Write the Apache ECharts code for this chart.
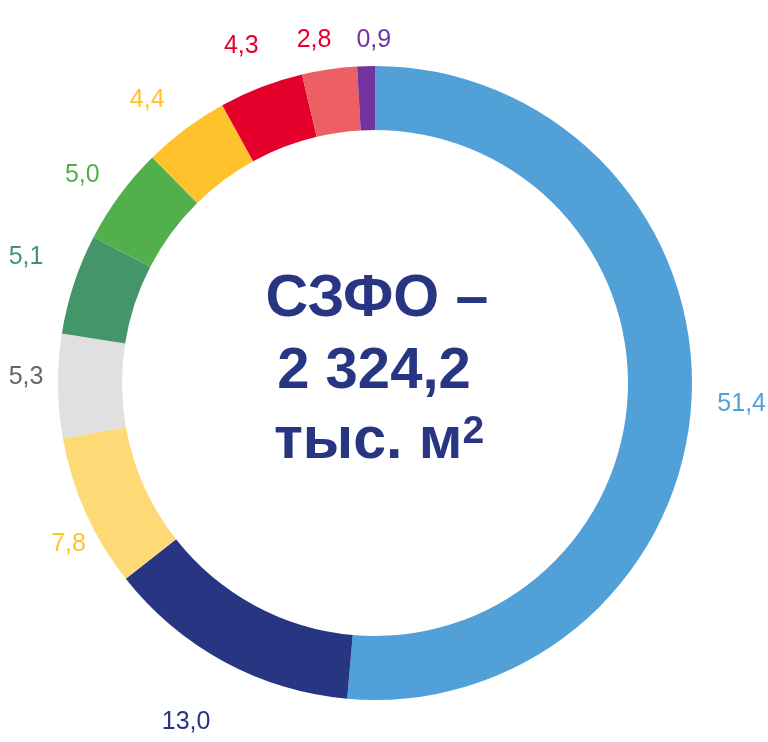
<!DOCTYPE html>
<html><head><meta charset="utf-8">
<script src="https://cdn.jsdelivr.net/npm/echarts@6/dist/echarts.min.js"></script>
<style>html,body{margin:0;padding:0;background:#fff}#c{width:768px;height:742px}</style>
</head><body><div id="c"></div>
<script>
const values = [51.4, 13.0, 7.8, 5.3, 5.1, 5.0, 4.4, 4.3, 2.8, 0.9];
const sliceColors = ['#52A0D8', '#283582', '#FDDA76', '#E0E0E0', '#44966A', '#52B04C', '#FFC22C', '#E4002B', '#EC6064', '#7232A0'];
const labelColors = ['#52A0D8', '#283582', '#FFC22C', '#666666', '#44966A', '#52B04C', '#FFC22C', '#E4002B', '#E4002B', '#7232A0'];
const centerLines = ['СЗФО –', '2 324,2'];
const unitText = 'тыс. м';
const unitSup = '2';

// label placement tweaks (layout only)
const labelOffsets = [[6, 5], [-17, 22], [23, 14], [12, -9], [-6, -13], [-2, 6], [-12, 6], [-4, 0], [-9, 14], [9, 18]];

const fmt = v => v.toFixed(1).replace('.', ',');
const chart = echarts.init(document.getElementById('c'), null, {renderer: 'canvas'});
const ctr = [375, 383];
const FF = '"Liberation Sans", Arial, sans-serif';
chart.setOption({
  animation: false,
  series: [
    {
      type: 'pie', center: ctr, radius: [253, 317], startAngle: 90, clockwise: true,
      label: {show: false}, labelLine: {show: false}, silent: true,
      data: values.map((v, i) => ({value: v, itemStyle: {color: sliceColors[i]}}))
    },
    {
      type: 'pie', center: ctr, radius: [320, 396], startAngle: 90, clockwise: true,
      silent: true, labelLine: {show: false},
      itemStyle: {color: 'rgba(0,0,0,0)'},
      label: {show: true, position: 'inside', fontFamily: 'Liberation Sans, Arial, sans-serif', fontSize: 25},
      data: values.map((v, i) => ({value: v, label: {color: labelColors[i], formatter: fmt(v), offset: labelOffsets[i]}}))
    }
  ],
  graphic: [
    {type: 'text', x: 377, y: 300, style: {text: centerLines[0], align: 'center', verticalAlign: 'middle', fill: '#283582', font: 'bold 59px ' + FF}},
    {type: 'text', x: 374, y: 372, style: {text: centerLines[1], align: 'center', verticalAlign: 'middle', fill: '#283582', font: 'bold 58px ' + FF}},
    {type: 'text', x: 379, y: 442, style: {
      text: '{a|' + unitText + '}{s|' + unitSup + '}', align: 'center', verticalAlign: 'middle',
      rich: {
        a: {fill: '#283582', fontSize: 59, fontWeight: 'bold', fontFamily: 'Liberation Sans, Arial, sans-serif', lineHeight: 59},
        s: {fill: '#283582', fontSize: 39, fontWeight: 'bold', fontFamily: 'Liberation Sans, Arial, sans-serif', lineHeight: 39, verticalAlign: 'top'}
      }
    }}
  ]
});
</script></body></html>
